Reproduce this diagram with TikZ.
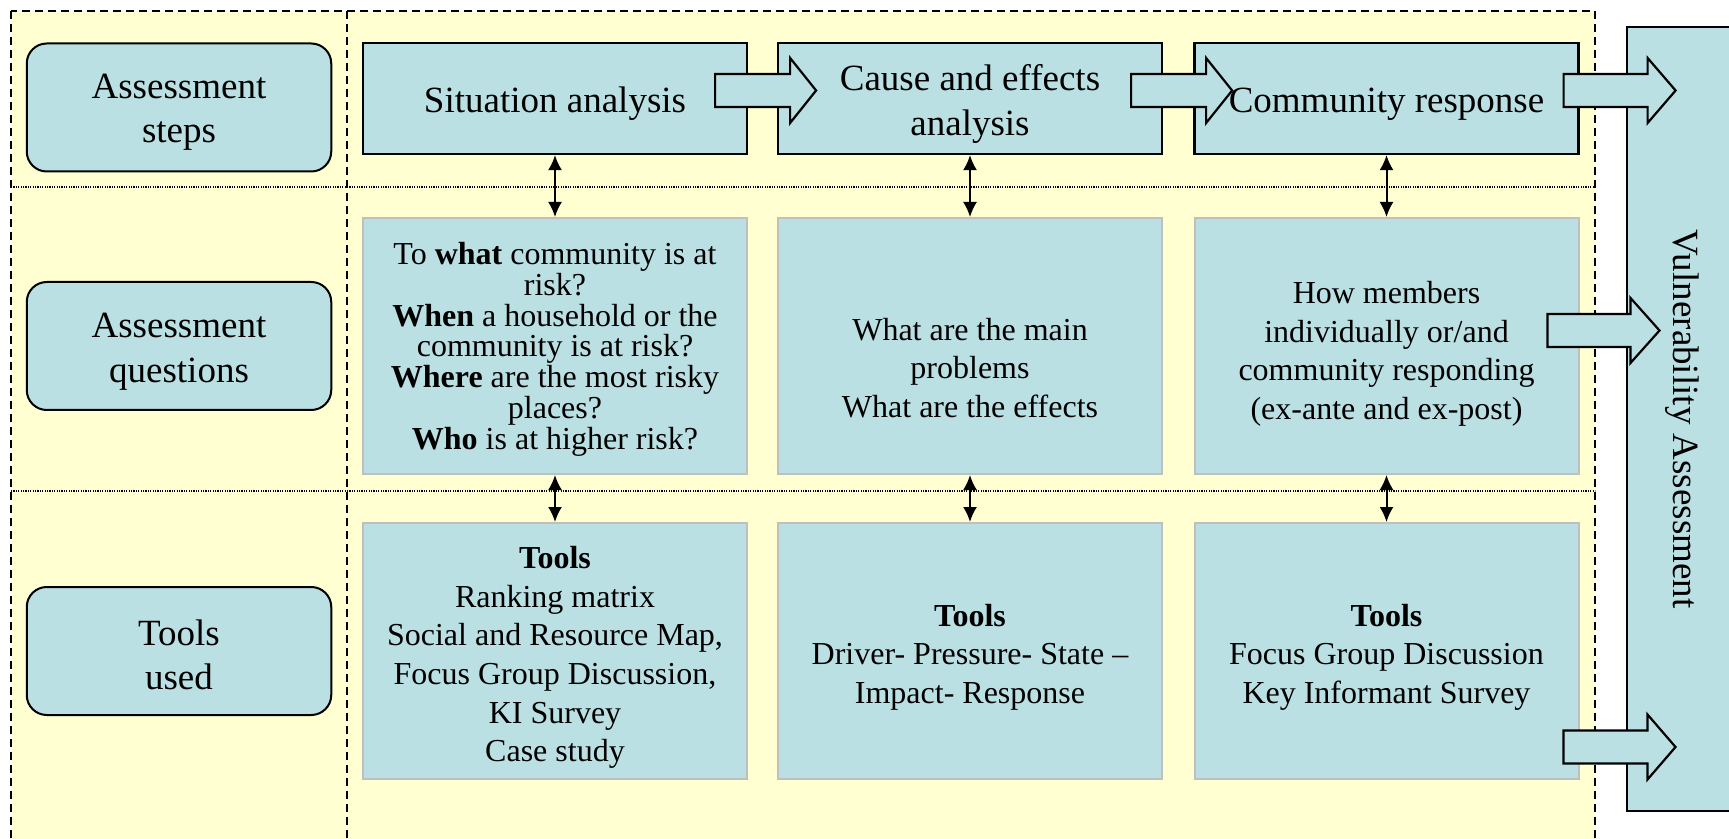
\documentclass[tikz,border=0pt]{standalone}
\usepackage{fontspec}
\setmainfont{Liberation Serif}
\usetikzlibrary{arrows.meta,calc}

\definecolor{boxblue}{RGB}{187,224,227}
\definecolor{paleyellow}{RGB}{255,255,210}
\newcommand{\bigtext}{\fontsize{18.5}{22.2}\selectfont}
\newcommand{\smalltext}{\fontsize{16}{19.3}\selectfont}
% fat arrow: start point (mid of shaft end), shaft length, head length
\newcommand{\blockarrow}[3]{%
  \draw[blockarr] #1 ++(0,-16.5) -- ++(#2,0) -- ++(0,-16) -- ++(#3,32.5)
    -- ++(-#3,32.5) -- ++(0,-16) -- ++(-#2,0) -- cycle;}

\begin{document}
\begin{tikzpicture}[x=0.5pt,y=-0.5pt,
    stepbox/.style={draw=black, line width=1.1pt, fill=boxblue, minimum width=192pt,
      minimum height=55.5pt, inner sep=0pt},
    infobox/.style={draw=black!25, line width=1pt, fill=boxblue, minimum width=192pt,
      minimum height=128pt, inner sep=0pt},
    rowlabel/.style={draw=black, line width=1pt, rounded corners=10pt, fill=boxblue,
      minimum width=152.25pt, minimum height=64pt, inner sep=0pt},
    bigtxt/.style={align=center, inner sep=0pt, font=\bigtext},
    smalltxt/.style={align=center, inner sep=0pt, font=\smalltext},
    blockarr/.style={draw=black, line width=1.1pt, fill=boxblue},
    link/.style={{Latex[length=7.5pt,width=7pt]}-{Latex[length=7.5pt,width=7pt]}, line width=1pt},
    framedash/.style={line width=0.8pt, dash pattern=on 4pt off 2.5pt},
    rowsep/.style={line width=0.6pt, dash pattern=on 0.6pt off 0.6pt}]

        \useasboundingbox (0,0) rectangle (1729,839);
        \clip (0,0) rectangle (1729,839);

        % Yellow frame with the row and column separators
        \draw[framedash, fill=paleyellow] (11,11) rectangle (1595,900);
        \draw[framedash] (347,11) -- (347,900);
        \draw[rowsep] (11,187) -- (1595,187);
        \draw[rowsep] (11,491) -- (1595,491);

        % Row labels
        \node[rowlabel] (lblsteps) at (179,107.5) {};
        \node[rowlabel] (lblquest) at (179,346) {};
        \node[rowlabel] (lbltools) at (179,651) {};
        \node[bigtxt, yshift=-2.5pt] (lblstepstext) at (lblsteps) {Assessment\\steps};
        \node[bigtxt, yshift=-2.8pt] (lblquesttext) at (lblquest) {Assessment\\questions};
        \node[bigtxt, yshift=-1.8pt] (lbltoolstext) at (lbltools) {Tools\\used};

        % Assessment steps
        \node[stepbox] (step1) at (555,98.5) {};
        \node[stepbox] (step2) at (970,98.5) {};
        \node[stepbox] (step3) at (1386.5,98.5) {};
        \node[bigtxt, yshift=-2.75pt] (step1text) at (step1) {Situation analysis};
        \node[bigtxt, yshift=-2.75pt] (step2text) at (step2) {Cause and effects\\analysis};
        \node[bigtxt, yshift=-2.75pt] (step3text) at (step3) {Community response};

        % Assessment questions
        \node[infobox] (quest1) at (555,346) {};
        \node[infobox] (quest2) at (970,346) {};
        \node[infobox] (quest3) at (1386.5,346) {};
        \node[smalltxt, font={\fontsize{16}{15.4}\selectfont}, yshift=-1.6pt] (quest1text) at (quest1)
          {To \textbf{what} community is at\\risk?\\\textbf{When} a household or the\\community is at risk?\\\textbf{Where} are the most risky\\places?\\\textbf{Who} is at higher risk?};
        \node[smalltxt, yshift=-11pt] (quest2text) at (quest2) {What are the main\\problems\\What are the effects};
        \node[smalltxt, yshift=-3.9pt] (quest3text) at (quest3) {How members\\individually or/and\\community responding\\(ex-ante and ex-post)};

        % Tools used
        \node[infobox] (tool1) at (555,651) {};
        \node[infobox] (tool2) at (970,651) {};
        \node[infobox] (tool3) at (1386.5,651) {};
        \node[smalltxt, yshift=-3.3pt] (tool1text) at (tool1)
          {\textbf{Tools}\\Ranking matrix\\Social and Resource Map,\\Focus Group Discussion,\\KI Survey\\Case study};
        \node[smalltxt, yshift=-3pt] (tool2text) at (tool2) {\textbf{Tools}\\Driver- Pressure- State --\\Impact- Response};
        \node[smalltxt, yshift=-3pt] (tool3text) at (tool3) {\textbf{Tools}\\Focus Group Discussion\\Key Informant Survey};

        % Links between the rows
        \foreach \c in {1,2,3} {
          \draw[link] (step\c.south) -- (quest\c.north);
          \draw[link] (quest\c.south) -- (tool\c.north);
        }

        % Outcome box
        \node[draw=black, line width=1.1pt, fill=boxblue, rotate=-90, minimum width=392pt,
          minimum height=55pt, inner sep=0pt, font=\bigtext] (vuln) at (1682,419) {Vulnerability Assessment};

        % Fat arrows along the steps and into the outcome
        \blockarrow{($(step1.east)+(-33,-8)$)}{75}{26}
        \blockarrow{($(step2.east)+(-32,-8)$)}{75}{26}
        \blockarrow{($(step3.east)+(-16,-8)$)}{84}{28}
        \blockarrow{($(quest3.east)+(-32,-15.5)$)}{83}{29}
        \blockarrow{($(tool3.east)+(-16,96)$)}{84}{28}
      \end{tikzpicture}
\end{document}
